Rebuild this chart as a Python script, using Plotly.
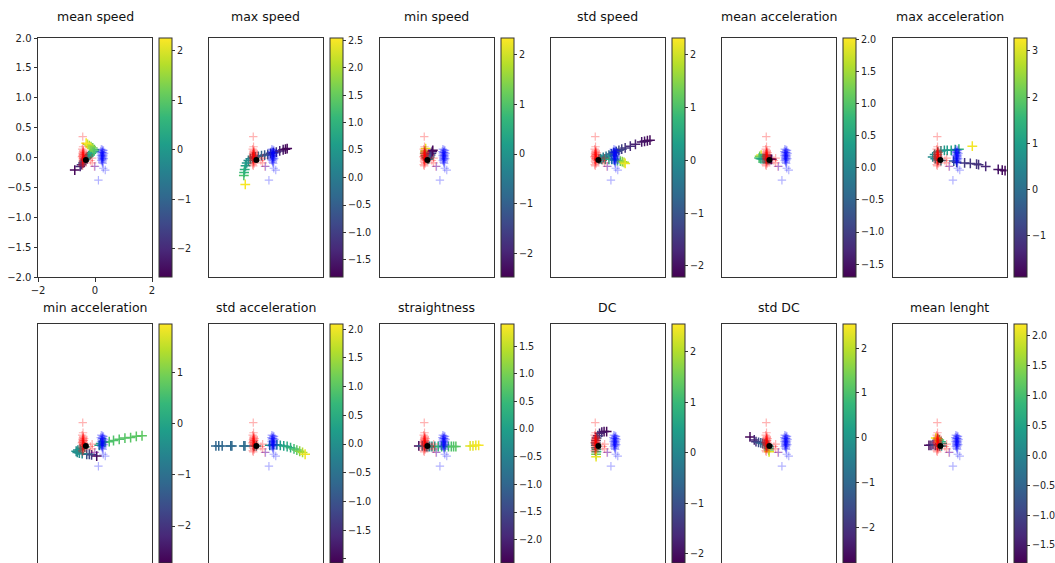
import plotly.graph_objects as go

titles = ["mean speed", "max speed", "min speed", "std speed", "mean acceleration", "max acceleration",
          "min acceleration", "std acceleration", "straightness", "DC", "std DC", "mean lenght"]

# reference groups (same in every panel)
red_x = [-0.43, -0.42, -0.45, -0.41, -0.38, -0.44, -0.42, -0.39, -0.46, -0.41, -0.43, -0.40, -0.37,
         -0.44, -0.42, -0.40, -0.45, -0.39, -0.41, -0.43, -0.44, -0.40, -0.10, -0.10, -0.02, -0.16,
         -0.42, -0.43, -0.41, -0.42, -0.43, -0.41]
red_y = [0.35, 0.18, 0.14, 0.10, 0.08, 0.06, 0.04, 0.02, 0.01, 0.00, -0.02, -0.03, -0.05,
         -0.06, -0.08, -0.10, -0.12, 0.05, 0.12, -0.14, 0.02, -0.01, -0.01, -0.09, -0.15, -0.05,
         0.07, 0.03, -0.01, -0.04, 0.09, 0.05]
blue_x = [0.22, 0.26, 0.30, 0.20, 0.24, 0.28, 0.32, 0.22, 0.26, 0.30, 0.21, 0.25, 0.29,
          0.23, 0.27, 0.31, 0.24, 0.28, 0.22, 0.26, 0.25, 0.27, 0.00, 0.29, 0.36, 0.12,
          0.25, 0.26, 0.24, 0.27]
blue_y = [0.14, 0.13, 0.12, 0.10, 0.09, 0.08, 0.07, 0.06, 0.05, 0.04, 0.03, 0.02, 0.01,
          0.00, -0.01, -0.02, -0.03, -0.04, -0.05, -0.06, -0.08, -0.10, -0.15, -0.18, -0.21, -0.38,
          0.08, 0.03, -0.02, 0.11]
center_x = [-0.32]
center_y = [-0.04]

# colour bar limits and ticks
cb_min = [-2.57, -1.81, -2.48, -2.21, -1.70, -1.89, -2.72, -2.07, -2.42, -2.18, -2.80, -1.80]
cb_max = [2.26, 2.54, 2.34, 2.32, 2.02, 3.28, 1.94, 2.09, 1.90, 2.55, 2.54, 2.20]
cb_ticks = [
    [-2, -1, 0, 1, 2],
    [-1.5, -1.0, -0.5, 0.0, 0.5, 1.0, 1.5, 2.0, 2.5],
    [-2, -1, 0, 1, 2],
    [-2, -1, 0, 1, 2],
    [-1.5, -1.0, -0.5, 0.0, 0.5, 1.0, 1.5, 2.0],
    [-1, 0, 1, 2, 3],
    [-2, -1, 0, 1],
    [-2.0, -1.5, -1.0, -0.5, 0.0, 0.5, 1.0, 1.5, 2.0],
    [-2.0, -1.5, -1.0, -0.5, 0.0, 0.5, 1.0, 1.5],
    [-2, -1, 0, 1, 2],
    [-2, -1, 0, 1, 2],
    [-1.5, -1.0, -0.5, 0.0, 0.5, 1.0, 1.5, 2.0],
]
cb_decimals = [0, 1, 0, 0, 1, 0, 0, 1, 1, 0, 0, 1]

# trajectories
t1_x = [-0.71, -0.52, -0.47, -0.42, -0.38, -0.34, -0.30, -0.26, -0.22, -0.18, -0.13, -0.08, -0.03, -0.02, -0.08, -0.14, -0.20, -0.26, -0.31]
t1_y = [-0.21, -0.15, -0.12, -0.09, -0.06, -0.03, -0.01, 0.01, 0.03, 0.05, 0.07, 0.09, 0.11, 0.13, 0.16, 0.18, 0.20, 0.22, 0.24]
t1_c = [-2.5, -2.1, -1.8, -1.5, -1.2, -0.9, -0.6, -0.3, -0.1, 0.1, 0.3, 0.5, 0.7, 0.9, 1.1, 1.3, 1.6, 1.9, 2.2]

t2_x = [-0.71, -0.76, -0.75, -0.73, -0.70, -0.66, -0.60, -0.53, -0.45, -0.36, -0.25, -0.14, -0.03, 0.08, 0.18, 0.28, 0.38, 0.50, 0.62, 0.70, 0.76]
t2_y = [-0.45, -0.30, -0.25, -0.20, -0.14, -0.09, -0.05, -0.02, 0.00, 0.01, 0.02, 0.03, 0.04, 0.05, 0.07, 0.08, 0.09, 0.11, 0.13, 0.14, 0.15]
t2_c = [2.5, 1.3, 1.1, 0.9, 0.7, 0.5, 0.35, 0.2, 0.05, -0.1, -0.25, -0.4, -0.55, -0.75, -0.9, -1.05, -1.2, -1.35, -1.55, -1.7, -1.75]

t3_x = [-0.38, -0.40, -0.41, -0.38, -0.35, -0.32, -0.30, -0.27, -0.24, -0.21, -0.18, -0.15, -0.13]
t3_y = [0.15, 0.11, 0.07, 0.03, 0.00, -0.02, -0.03, -0.02, 0.01, 0.04, 0.07, 0.10, 0.12]
t3_c = [2.2, 1.8, 1.3, 0.8, 0.4, 0.1, 0.0, -0.3, -0.7, -1.2, -1.7, -2.2, -2.4]

t4_x = [1.49, 1.40, 1.30, 1.20, 0.98, 0.80, 0.62, 0.50, 0.40, 0.31, 0.22, 0.13, 0.05, -0.05, -0.15, -0.25, -0.30, -0.20, -0.08, 0.05, 0.15, 0.25, 0.35, 0.45, 0.52, 0.58, 0.62]
t4_y = [0.29, 0.28, 0.27, 0.26, 0.22, 0.19, 0.16, 0.14, 0.12, 0.10, 0.08, 0.06, 0.04, 0.02, 0.00, -0.02, -0.03, -0.03, -0.03, -0.03, -0.03, -0.04, -0.05, -0.06, -0.07, -0.08, -0.10]
t4_c = [-2.1, -2.05, -2.0, -1.95, -1.8, -1.65, -1.5, -1.35, -1.2, -1.05, -0.9, -0.75, -0.6, -0.45, -0.3, -0.15, 0.0, 0.1, 0.2, 0.35, 0.5, 0.7, 0.9, 1.2, 1.5, 1.8, 2.2]

t5_x = [-0.61, -0.66, -0.68, -0.63, -0.58, -0.54, -0.50, -0.46, -0.42, -0.38, -0.34, -0.30, -0.27, -0.24]
t5_y = [0.04, 0.02, -0.01, -0.02, -0.02, -0.02, -0.02, -0.02, -0.02, -0.03, -0.03, -0.03, -0.03, -0.03]
t5_c = [1.9, 1.3, 0.9, 0.7, 0.5, 0.4, 0.3, 0.2, 0.1, 0.0, -0.3, -0.8, -1.2, -1.6]

t6_x = [0.80, 0.33, 0.20, 0.06, -0.08, -0.18, -0.30, -0.41, -0.52, -0.59, -0.50, -0.40, -0.30, 0.15, 0.25, 0.53, 0.73, 0.95, 1.02, 1.27, 1.71, 1.85, 1.95]
t6_y = [0.19, 0.14, 0.13, 0.12, 0.12, 0.12, 0.11, 0.09, 0.05, 0.01, -0.02, -0.04, -0.05, -0.06, -0.08, -0.09, -0.10, -0.11, -0.12, -0.15, -0.20, -0.21, -0.22]
t6_c = [3.2, 1.5, 1.3, 1.1, 0.95, 0.85, 0.75, 0.7, 0.65, 0.6, 0.5, 0.4, 0.3, -0.4, -0.7, -1.0, -1.05, -1.1, -1.15, -1.3, -1.6, -1.7, -1.8]

t7_x = [0.06, -0.12, -0.20, -0.29, -0.45, -0.55, -0.62, -0.66, -0.60, -0.52, -0.44, -0.36, 0.15, 0.20, 0.35, 0.50, 0.65, 0.85, 1.05, 1.25, 1.45, 1.65]
t7_y = [-0.21, -0.19, -0.18, -0.18, -0.17, -0.16, -0.15, -0.13, -0.11, -0.10, -0.08, -0.06, -0.03, 0.00, 0.02, 0.03, 0.05, 0.07, 0.09, 0.10, 0.12, 0.13]
t7_c = [-2.6, -1.9, -1.7, -1.55, -0.5, -0.45, -0.42, -0.4, -0.38, -0.35, -0.3, -0.25, -0.1, 0.2, 0.55, 0.6, 0.62, 0.65, 0.68, 0.7, 0.72, 0.75]

t8_x = [-1.74, -1.64, -1.52, -1.22, -1.18, -0.76, -0.72, -0.40, -0.32, 0.15, 0.28, 0.40, 0.52, 0.64, 0.76, 0.88, 1.00, 1.10, 1.20, 1.30, 1.39]
t8_y = [-0.04, -0.04, -0.04, -0.04, -0.04, -0.04, -0.04, -0.04, -0.04, -0.03, -0.02, -0.02, -0.03, -0.04, -0.05, -0.07, -0.09, -0.11, -0.13, -0.15, -0.18]
t8_c = [-0.7, -0.7, -0.68, -0.66, -0.65, -0.62, -0.6, -0.3, -0.1, 0.05, 0.1, 0.15, 0.2, 0.3, 0.45, 0.6, 0.8, 1.0, 1.3, 1.6, 2.0]

t9_x = [-0.62, -0.50, -0.42, -0.36, -0.30, -0.24, -0.16, -0.06, 0.06, 0.18, 0.30, 0.42, 0.52, 0.60, 0.68, 1.18, 1.28, 1.38, 1.48]
t9_y = [-0.04, -0.04, -0.04, -0.05, -0.05, -0.05, -0.05, -0.05, -0.05, -0.05, -0.05, -0.05, -0.05, -0.05, -0.05, -0.04, -0.04, -0.03, -0.03]
t9_c = [-2.3, -1.0, -0.8, -0.7, -0.6, -0.5, -0.3, 0.0, 0.3, 0.45, 0.55, 0.6, 0.65, 0.7, 0.75, 1.7, 1.75, 1.8, 1.85]

t10_x = [-0.03, -0.12, -0.20, -0.28, -0.34, -0.38, -0.40, -0.41, -0.41, -0.40, -0.39, -0.39, -0.40, -0.40]
t10_y = [0.20, 0.20, 0.19, 0.17, 0.13, 0.09, 0.05, 0.01, -0.03, -0.07, -0.10, -0.14, -0.18, -0.22]
t10_c = [-2.1, -2.0, -1.9, -1.7, -1.3, -1.0, -0.7, -0.4, -0.1, 0.2, 0.5, 1.0, 1.5, 2.4]

t11_x = [-1.00, -0.85, -0.79, -0.70, -0.62, -0.55, -0.48, -0.42, -0.37, -0.34, -0.34, -0.34, -0.33]
t11_y = [0.11, 0.06, 0.03, 0.02, 0.01, 0.00, -0.01, -0.02, -0.03, -0.05, -0.08, -0.11, -0.14]
t11_c = [-2.7, -2.2, -2.0, -1.6, -1.3, -1.1, -0.9, -0.6, -0.3, 0.0, 0.6, 1.3, 2.3]

t12_x = [-0.72, -0.65, -0.58, -0.50, -0.42, -0.35, -0.28, -0.26, -0.30, -0.36, -0.42, -0.48]
t12_y = [-0.03, -0.03, -0.02, -0.03, -0.03, -0.04, -0.04, 0.00, 0.03, 0.06, 0.08, 0.09]
t12_c = [-1.75, -1.6, -1.4, -1.1, -0.7, -0.3, 0.1, 0.4, 0.7, 1.1, 1.5, 2.1]

trajs = [(t1_x, t1_y, t1_c), (t2_x, t2_y, t2_c), (t3_x, t3_y, t3_c), (t4_x, t4_y, t4_c),
         (t5_x, t5_y, t5_c), (t6_x, t6_y, t6_c), (t7_x, t7_y, t7_c), (t8_x, t8_y, t8_c),
         (t9_x, t9_y, t9_c), (t10_x, t10_y, t10_c), (t11_x, t11_y, t11_c), (t12_x, t12_y, t12_c)]

W, H = 1055, 563
col_left = [38, 208.5, 379.5, 550.5, 721.5, 892.5]
row_top = [38, 324]
title_off = [21, 16]
AW, AH = 114, 239

def fmt(v, d):
    s = f"{abs(v):.{d}f}"
    return ("\u2212" + s) if v < 0 else s

FONT = "DejaVu Sans"
fig = go.Figure()
layout = dict(width=W, height=H, margin=dict(l=0, r=0, t=0, b=0, pad=0, autoexpand=False),
              paper_bgcolor="white", plot_bgcolor="white", showlegend=False,
              font=dict(family=FONT, color="#222"))
annotations = []

for k in range(12):
    r, c = divmod(k, 6)
    L = col_left[c]
    top = row_top[r]
    xa = "xaxis" if k == 0 else f"xaxis{k+1}"
    ya = "yaxis" if k == 0 else f"yaxis{k+1}"
    xr = "x" if k == 0 else f"x{k+1}"
    yr = "y" if k == 0 else f"y{k+1}"
    first = (k == 0)
    layout[xa] = dict(domain=[L / W, (L + AW) / W], range=[-2, 2], anchor=yr,
                      showgrid=False, zeroline=False, showline=True, mirror=True,
                      linecolor="#333", linewidth=1, automargin=False,
                      ticks="outside" if first else "", ticklen=3.5, tickcolor="#333",
                      showticklabels=first, tickvals=[-2, 0, 2],
                      ticktext=[fmt(v, 0) for v in [-2, 0, 2]],
                      tickfont=dict(size=10, family=FONT, color="#222"))
    yt = [-2.0, -1.5, -1.0, -0.5, 0.0, 0.5, 1.0, 1.5, 2.0]
    layout[ya] = dict(domain=[max(0, 1 - (top + AH) / H), 1 - top / H], range=[-2, 2], anchor=xr,
                      showgrid=False, zeroline=False, showline=True, mirror=True,
                      linecolor="#333", linewidth=1, automargin=False,
                      ticks="outside" if first else "", ticklen=3.5, tickcolor="#333",
                      showticklabels=first, tickvals=yt,
                      ticktext=[fmt(v, 1) for v in yt],
                      tickfont=dict(size=10, family=FONT, color="#222"))
    annotations.append(dict(text=titles[k], x=(L + AW / 2) / W, y=1 - (top - title_off[r]) / H,
                            xref="paper", yref="paper", xanchor="center", yanchor="middle",
                            showarrow=False, font=dict(size=12.5, family=FONT, color="#111")))

    tx, ty, tc = trajs[k]
    fig.add_trace(go.Scatter(
        x=tx, y=ty, mode="markers", xaxis=xr, yaxis=yr, hoverinfo="skip",
        marker=dict(symbol="cross-thin-open", size=7, color=tc, colorscale="Viridis",
                    cmin=cb_min[k], cmax=cb_max[k], line=dict(width=1.5), showscale=True,
                    colorbar=dict(x=(L + 121) / W, xanchor="left", xpad=0, ypad=0,
                                  y=1 - top / H, yanchor="top", len=AH, lenmode="pixels",
                                  thickness=13, thicknessmode="pixels",
                                  outlinewidth=1, outlinecolor="#333",
                                  ticks="outside", ticklen=3, tickcolor="#333",
                                  tickvals=cb_ticks[k],
                                  ticktext=[fmt(v, cb_decimals[k]) for v in cb_ticks[k]],
                                  tickfont=dict(size=9.6, family=FONT, color="#222")))))
    fig.add_trace(go.Scatter(
        x=red_x, y=red_y, mode="markers", xaxis=xr, yaxis=yr, hoverinfo="skip",
        marker=dict(symbol="cross-thin-open", size=6, color="rgba(255,0,0,0.3)", line=dict(width=1.2))))
    fig.add_trace(go.Scatter(
        x=blue_x, y=blue_y, mode="markers", xaxis=xr, yaxis=yr, hoverinfo="skip",
        marker=dict(symbol="cross-thin-open", size=6, color="rgba(0,0,255,0.3)", line=dict(width=1.2))))
    fig.add_trace(go.Scatter(
        x=center_x, y=center_y, mode="markers", xaxis=xr, yaxis=yr, hoverinfo="skip",
        marker=dict(symbol="circle", size=6, color="black")))

layout["annotations"] = annotations
fig.update_layout(**layout)
fig.write_html("out.html", config={"displayModeBar": False},
               post_script="document.body.style.margin='0px';document.body.style.overflow='hidden';")
